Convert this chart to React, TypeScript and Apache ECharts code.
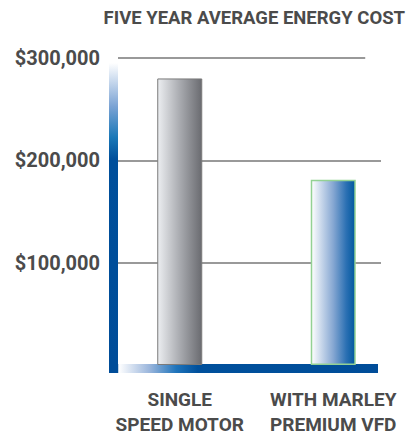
import React, { useEffect, useRef } from "react";
import * as echarts from "echarts";

const titleText = "FIVE YEAR AVERAGE ENERGY COST";
const categories = ["SINGLE\nSPEED MOTOR", "WITH MARLEY\nPREMIUM VFD"];
const costs = [280000, 181000];
const yMin = 0;
const yMax = 300000;
const yStep = 100000;

const TEXT = "#4b4b4b";
const FONT = "Roboto, 'Liberation Sans', Arial, sans-serif";

function money(v: number): string {
  if (v === 0) return "";
  return "$" + v.toLocaleString("en-US");
}

export default function App() {
  const ref = useRef<HTMLDivElement>(null);
  useEffect(() => {
    if (!ref.current) return;
    const chart = echarts.init(ref.current, undefined, { renderer: "svg" });
    const grayGrad = new echarts.graphic.LinearGradient(0, 0, 1, 0, [
      { offset: 0, color: "#eceef1" },
      { offset: 0.5, color: "#a9abb0" },
      { offset: 1, color: "#6a6b70" },
    ]);
    const blueGrad = new echarts.graphic.LinearGradient(0, 0, 1, 0, [
      { offset: 0, color: "#ffffff" },
      { offset: 0.5, color: "#86a7d2" },
      { offset: 0.8, color: "#2b70b3" },
      { offset: 1, color: "#00579f" },
    ]);
    const vertGrad = new echarts.graphic.LinearGradient(0, 0, 0, 1, [
      { offset: 0, color: "#ffffff" },
      { offset: 0.14, color: "#7ba3d4" },
      { offset: 0.24, color: "#1a78b8" },
      { offset: 0.31, color: "#004f9b" },
      { offset: 1, color: "#004d99" },
    ]);
    const horizGrad = new echarts.graphic.LinearGradient(0, 0, 1, 0, [
      { offset: 0, color: "#004d99" },
      { offset: 0.033, color: "#004d99" },
      { offset: 0.036, color: "#ffffff" },
      { offset: 0.15, color: "#9bb6dc" },
      { offset: 0.25, color: "#1f74bb" },
      { offset: 0.33, color: "#00509c" },
      { offset: 1, color: "#004d99" },
    ]);
    chart.setOption({
      animation: false,
      title: {
        text: titleText,
        right: 8,
        top: 3,
        textStyle: { fontFamily: FONT, fontWeight: "bold", fontSize: 18.5, color: TEXT },
      },
      graphic: [
        { type: "rect", z: 1, shape: { x: 109, y: 63, width: 9, height: 310 }, style: { fill: vertGrad } },
        { type: "rect", z: 1, shape: { x: 109, y: 364, width: 269, height: 9 }, style: { fill: horizGrad } },
      ],
      grid: [
        { left: 103, right: 8, top: 58, bottom: 74 },
        { left: 118, right: 37, top: 58, bottom: 74 },
      ],
      xAxis: [
        {
          type: "category",
          gridIndex: 0,
          data: categories,
          axisLine: { show: false },
          axisTick: { show: false },
          axisLabel: {
            interval: 0,
            margin: 22,
            fontFamily: FONT,
            fontWeight: "bold",
            fontSize: 19,
            lineHeight: 25,
            color: TEXT,
            align: "center",
          },
        },
        { type: "value", gridIndex: 1, min: 0, max: 1, show: false },
      ],
      yAxis: [
        { type: "value", gridIndex: 0, min: yMin, max: yMax, show: false },
        {
          type: "value",
          gridIndex: 1,
          min: yMin,
          max: yMax,
          interval: yStep,
          axisLine: { show: false },
          axisTick: { show: false },
          axisLabel: {
            margin: 18,
            formatter: money,
            fontFamily: FONT,
            fontWeight: "bold",
            fontSize: 20,
            color: TEXT,
          },
          splitLine: {
            show: true,
            showMinLine: false,
            showMaxLine: false,
            lineStyle: { color: "#777777", width: 1.5 },
          },
        },
      ],
      series: [
        {
          type: "bar",
          xAxisIndex: 0,
          yAxisIndex: 0,
          barWidth: 45,
          z: 3,
          data: [
            { value: costs[0], itemStyle: { color: grayGrad, borderColor: "#7a7a7a", borderWidth: 1 } },
            { value: costs[1], itemStyle: { color: blueGrad, borderColor: "#93d194", borderWidth: 1.5 } },
          ],
        },
        {
          type: "line",
          xAxisIndex: 1,
          yAxisIndex: 1,
          data: [[0, yMax]],
          showSymbol: false,
          symbol: "none",
          lineStyle: { opacity: 0 },
          silent: true,
          markLine: {
            silent: true,
            symbol: ["none", "none"],
            label: { show: false },
            lineStyle: { color: "#777777", width: 1.5, type: "solid" },
            data: [[{ coord: [0, yMax] }, { coord: [0.94, yMax] }]],
          },
        },
      ],
    });
    return () => chart.dispose();
  }, []);
  return (
    <div
      ref={ref}
      style={{ position: "fixed", left: 0, top: 0, width: 418, height: 439, background: "#ffffff" }}
    />
  );
}
